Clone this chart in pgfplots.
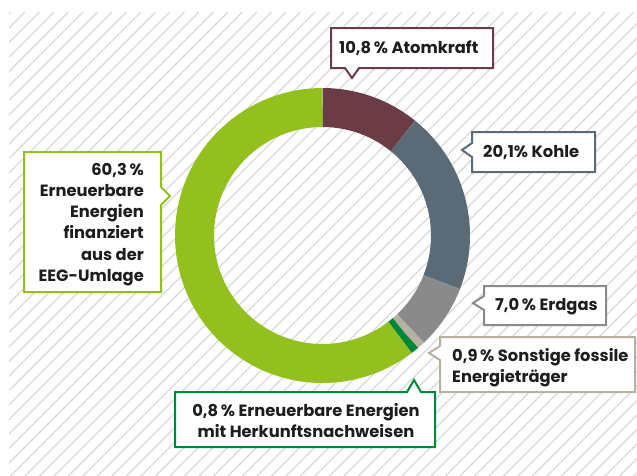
\documentclass[border=0pt]{standalone}
\usepackage{pgfplots}
\usepackage{pgfplotstable}
\pgfplotsset{compat=1.18}
\usepackage{fontspec}
\setmainfont{Poppins}
\definecolor{cAtom}{HTML}{6B3C45}
\definecolor{cKohle}{HTML}{5A6A77}
\definecolor{cGas}{HTML}{8A8A8A}
\definecolor{cSonst}{HTML}{B6B1A2}
\definecolor{cHKN}{HTML}{00883A}
\definecolor{cEEG}{HTML}{93C01F}
\definecolor{hatch}{HTML}{D8D8D8}
\definecolor{txt}{HTML}{1D1D1B}
\pgfplotstableread{
value col
10.8 cAtom
20.1 cKohle
7.0 cGas
0.9 cSonst
0.8 cHKN
60.3 cEEG
}\shares
\begin{document}
\begin{tikzpicture}
\begin{axis}[width=637pt,height=475pt,scale only axis,
  xmin=0,xmax=637,ymin=0,ymax=475,y dir=reverse,
  hide axis,clip=false]
% background hatch
\begin{scope}
\clip (axis cs:9,12) rectangle (axis cs:637,475);
\pgfplotsforeachungrouped \k in {-2,...,80}{%
  \pgfmathsetmacro\xa{25+14.5*\k}%
  \pgfmathsetmacro\xb{\xa-520}%
  \edef\cmd{\noexpand\draw[hatch,line width=1.2pt] (axis cs:\xa,12) -- (axis cs:\xb,532);}%
  \cmd
}
\end{scope}
% donut
\pgfplotstablegetrowsof{\shares}
\pgfmathtruncatemacro\nrows{\pgfplotsretval-1}
\def\cum{0}
\pgfplotsforeachungrouped \i in {0,...,\nrows}{%
  \pgfplotstablegetelem{\i}{value}\of\shares \let\v\pgfplotsretval
  \pgfplotstablegetelem{\i}{col}\of\shares \let\c\pgfplotsretval
  \pgfmathsetmacro\sa{-90+\cum/99.9*360}%
  \pgfmathsetmacro\cumnew{\cum+\v}%
  \pgfmathsetmacro\ea{-90+\cumnew/99.9*360}%
  \global\let\cum\cumnew
  \edef\cmd{\noexpand\addplot[draw=\c,line width=39pt,domain=\sa:\ea,samples=90,smooth]
     ({322.5+128*cos(x)},{235.5+128*sin(x)});}%
  \cmd
}
% callouts
\tikzset{cb/.style={line width=2pt,fill=white,line join=miter}}
\draw[cb,draw=cAtom] (axis cs:331,28) -- (axis cs:493,28) -- (axis cs:493,68) -- (axis cs:359,68) -- (axis cs:352,78) -- (axis cs:345,68) -- (axis cs:331,68) -- cycle;
\draw[cb,draw=cKohle] (axis cs:472,132) -- (axis cs:595,132) -- (axis cs:595,172) -- (axis cs:472,172) -- (axis cs:472,157) -- (axis cs:462,150) -- (axis cs:472,143) -- cycle;
\draw[cb,draw=cGas] (axis cs:484,286) -- (axis cs:606,286) -- (axis cs:606,325) -- (axis cs:484,325) -- (axis cs:484,310) -- (axis cs:473,303) -- (axis cs:484,296) -- cycle;
\draw[cb,draw=cSonst] (axis cs:440,337) -- (axis cs:635,337) -- (axis cs:635,392) -- (axis cs:440,392) -- (axis cs:440,360) -- (axis cs:429,353) -- (axis cs:440,346) -- cycle;
\draw[cb,draw=cHKN] (axis cs:175,392) -- (axis cs:407,392) -- (axis cs:414,380) -- (axis cs:421,392) -- (axis cs:435,392) -- (axis cs:435,447) -- (axis cs:175,447) -- cycle;
\draw[cb,draw=cEEG] (axis cs:24,152) -- (axis cs:161,152) -- (axis cs:161,187) -- (axis cs:170,196) -- (axis cs:161,205) -- (axis cs:161,292) -- (axis cs:24,292) -- cycle;
% texts
\tikzset{lb/.style={font=\fontsize{16.3}{20}\selectfont\bfseries,text=txt,inner sep=0pt}}
\node[lb,anchor=base west] at (axis cs:339,53) {10,8\,\% Atomkraft};
\node[lb,anchor=base west] at (axis cs:483,157) {20,1\% Kohle};
\node[lb,anchor=base west] at (axis cs:495,310) {7,0\,\% Erdgas};
\node[lb,anchor=base west] at (axis cs:452,361) {0,9\,\% Sonstige fossile};
\node[lb,anchor=base west] at (axis cs:452,382) {Energieträger};
\node[lb,anchor=base] at (axis cs:306,416) {0,8\,\% Erneuerbare Energien};
\node[lb,anchor=base] at (axis cs:306,437) {mit Herkunftsnachweisen};
\node[lb,anchor=base east] at (axis cs:144,175) {60,3\,\%};
\node[lb,anchor=base east] at (axis cs:144,196) {Erneuerbare};
\node[lb,anchor=base east] at (axis cs:144,217) {Energien};
\node[lb,anchor=base east] at (axis cs:144,238) {finanziert};
\node[lb,anchor=base east] at (axis cs:144,260) {aus der};
\node[lb,anchor=base east] at (axis cs:144,281) {EEG-Umlage};
\end{axis}
\pgfresetboundingbox
\useasboundingbox (0,0) rectangle (637pt,475pt);
\end{tikzpicture}
\end{document}
